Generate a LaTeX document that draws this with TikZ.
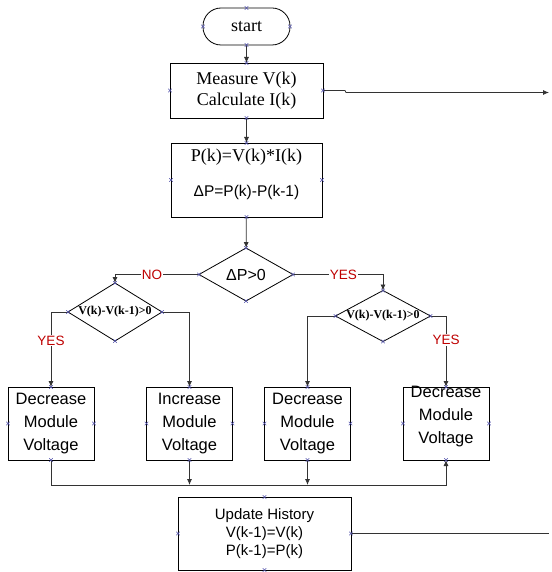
\documentclass[tikz,border=0pt]{standalone}
\usepackage{fontspec}
\setmainfont{Liberation Serif}
\newfontfamily\arialfont{Liberation Sans}
\usetikzlibrary{shapes.geometric,arrows.meta}

\begin{document}
\begin{tikzpicture}[x=1pt, y=-1pt, outer sep=0pt, line width=0.8pt]

\tikzstyle{term}=[draw, rectangle, rounded corners=18pt, minimum width=87pt, minimum height=37pt, inner sep=0pt, font=\fontsize{18}{21}\selectfont]
\tikzstyle{calc}=[draw, rectangle, inner sep=0pt, align=center, font=\fontsize{18}{21}\selectfont]
\tikzstyle{place}=[draw, rectangle, minimum width=86pt, minimum height=73pt, inner sep=0pt, align=center, font=\arialfont\fontsize{16.5}{23}\selectfont]
\tikzstyle{test}=[draw, diamond, inner sep=0pt, font=\bfseries\fontsize{12}{14}\selectfont]
\tikzstyle{flow}=[-{Latex[length=6pt,width=5pt]}, draw=black!80]
\tikzstyle{answer}=[fill=white, text=red!75!black, inner sep=1pt, font=\arialfont\fontsize{13.5}{15}\selectfont]
\tikzstyle{cross}=[draw=blue!35!gray, line width=0.5pt]

\useasboundingbox (0,0) rectangle (551,572);

% top part
\node[term] (start) at (246.5,26.5) {start};
\node[calc, minimum width=153pt, minimum height=55pt] (meas) at (246.5,90.5) {Measure V(k)\\Calculate I(k)};
\node[calc, minimum width=151pt, minimum height=74pt] (pbox) at (246.5,180) {\raisebox{1pt}[0pt][0pt]{\begin{tabular}{@{}c@{}}P(k)=V(k)*I(k)\\[14pt]{\arialfont\fontsize{15.5}{18}\selectfont ΔP=P(k)-P(k-1)}\end{tabular}}};

% decisions
\node[test, minimum width=94pt, minimum height=53pt, font=\arialfont\fontsize{16}{18}\selectfont] (dp) at (246,274.5) {\makebox[0pt]{ΔP>0}};
\node[test, minimum width=94pt, minimum height=58pt] (ld) at (115,312) {\makebox[0pt]{V(k)-V(k-1)>0}};
\node[test, minimum width=95pt, minimum height=51pt] (rd) at (383,316) {\makebox[0pt]{V(k)-V(k-1)>0}};

% module voltage
\node[place] (b1) at (51,423.5) {Decrease\\Module\\Voltage}; \node[place] (b2) at (189.5,423.5) {Increase\\Module\\Voltage};
\node[place] (b3) at (307.5,423.5) {Decrease\\Module\\Voltage}; \node[place] (b4) at (446,423.5) {\raisebox{3pt}[0pt][0pt]{\begin{tabular}{@{}c@{}}Decrease\\Module\\Voltage\end{tabular}}};

\node[calc, minimum width=173pt, minimum height=73pt, font=\arialfont\fontsize{15}{18}\selectfont] (upd) at (264.5,533.5) {Update History\\V(k-1)=V(k)\\P(k-1)=P(k)};

\coordinate (outA) at (549,92.5);
\coordinate (outB) at (549,533.5);
\coordinate (bus) at (446,485);

% connectors
\draw[flow] (start) -- (meas);
\draw[flow] (meas) -- (pbox);
\draw[flow] (pbox) -- (dp);
\draw[flow] (meas.east) -- ++(22,0) -- ++(1,2) -- (outA);
\draw[flow] (dp.west) -| node[answer, pos=0.28] {NO} (ld.north);
\draw[flow] (dp.east) -| node[answer, pos=0.28] {YES} (rd.north);
\draw[flow] (ld.west) -| node[answer, pos=0.69] {YES} (b1.north);
\draw[flow] (ld.east) -| (b2.north);
\draw[flow] (rd.west) -| (b3.north);
\draw[flow] (rd.east) -| node[answer, pos=0.67] {YES} (b4.north);
\draw[flow] (b1.south) |- (bus) -- (b4.south);
\draw[flow] (b2.south) -- (b2.south |- bus);
\draw[flow] (b3.south) -- (b3.south |- bus);
\draw[draw=black!80] (upd.east) -- (outB);

% connection points
\foreach \n in {start,meas,pbox,dp,ld,rd,b1,b2,b3,b4,upd}
  \foreach \a in {north,south,east,west}
    \draw[cross] (\n.\a) ++(-1.8,-1.8) -- ++(3.6,3.6) ++(-3.6,0) -- ++(3.6,-3.6);

\end{tikzpicture}
\end{document}
